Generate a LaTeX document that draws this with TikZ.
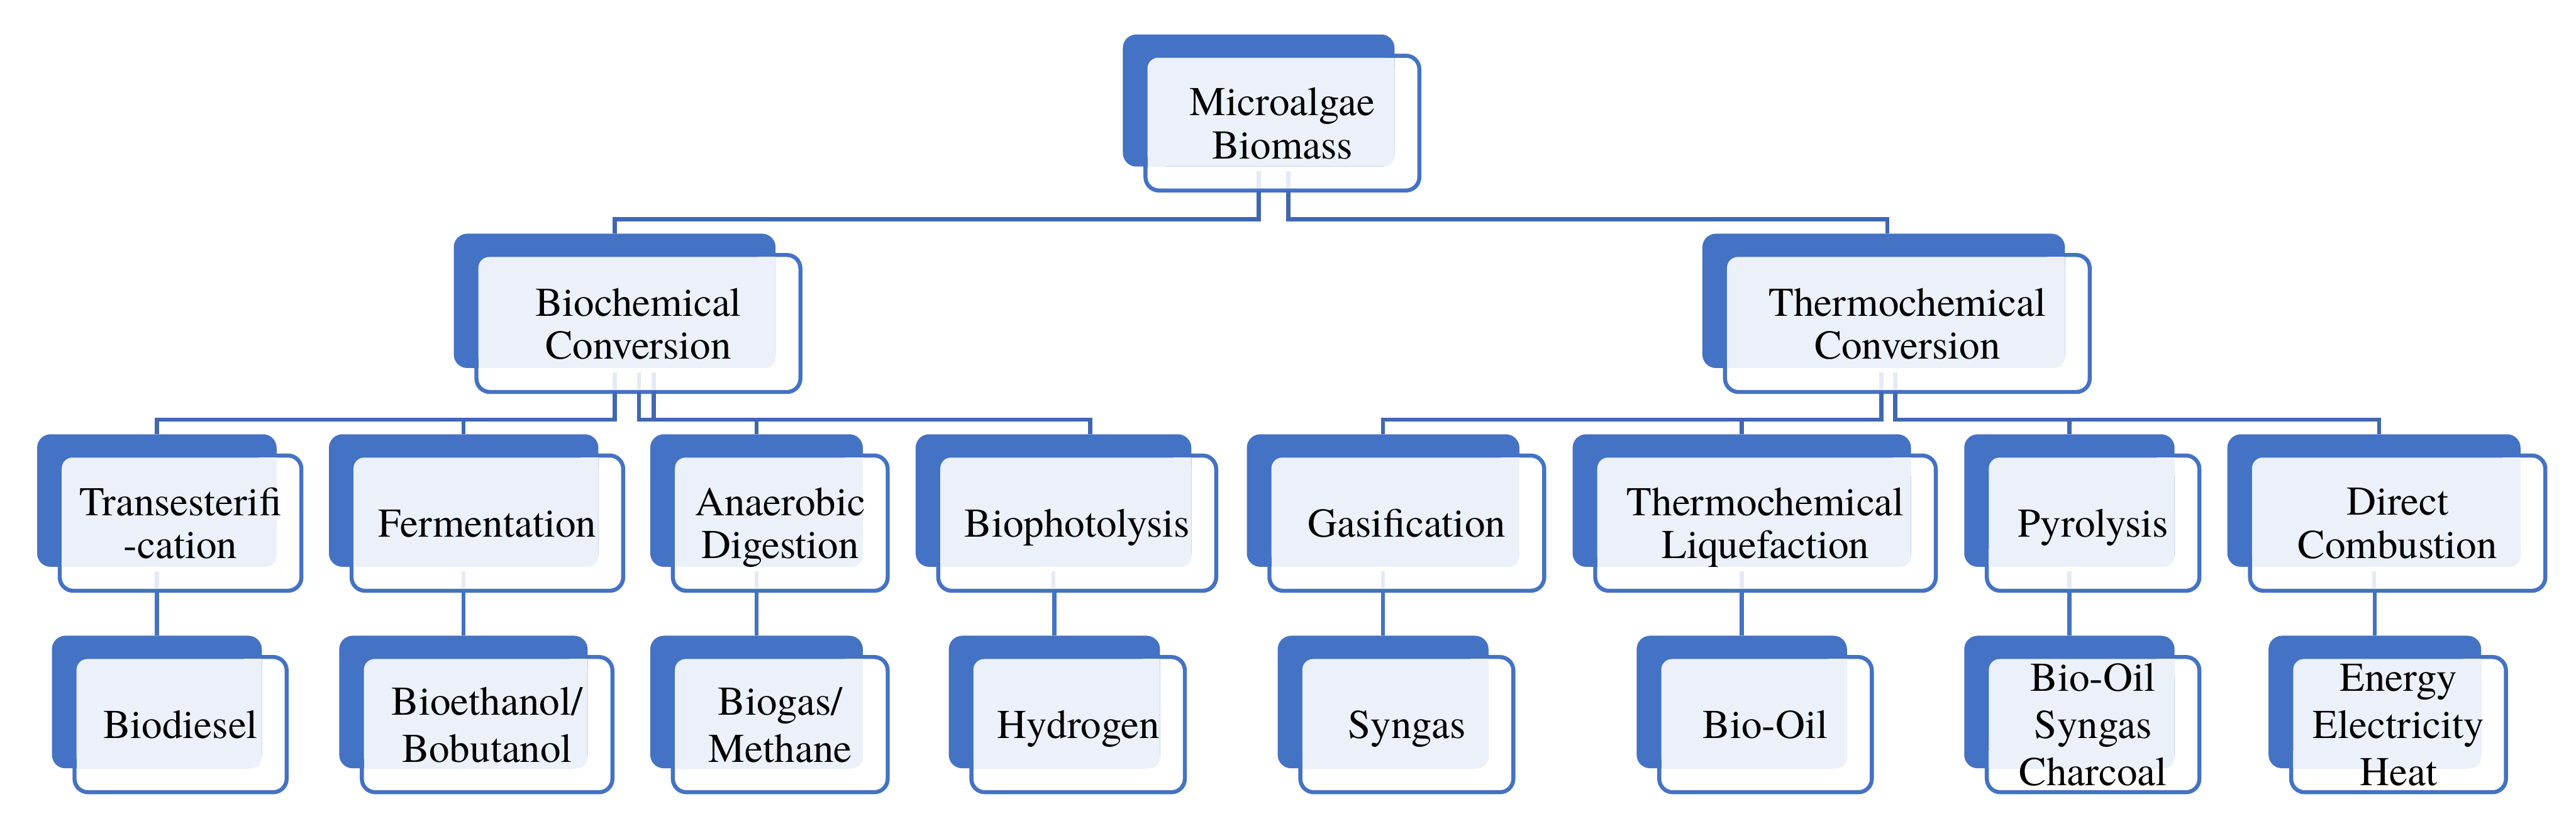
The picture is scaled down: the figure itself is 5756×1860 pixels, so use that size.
\documentclass[tikz,border=0pt]{standalone}
\usepackage{fontspec}
\setmainfont{TeX Gyre Termes}
\usetikzlibrary{calc}

\definecolor{cardblue}{HTML}{4472C4}
\definecolor{cardtint}{HTML}{EBF0F9}
\definecolor{linkblue}{HTML}{3F67B2}
\definecolor{fadeblue}{HTML}{E4EAF5}

\newcommand{\px}{0.05mm}
% one card: #1 name, (#2,#3) centre of the dark back card, #4 x #5 its size, #6 text
\newcommand{\algcard}[6]{%
	\node[frontcard, minimum width=#4*\px+5*\px, minimum height=#5*\px+6*\px] (#1) at ({#2+53},{#3+50.5}) {};
	\node[backcard, minimum width=#4*\px, minimum height=#5*\px] (#1-b) at (#2,#3) {};
	\coordinate (#1-nw) at ([shift={(4.5,4.5)}]#1.north west);
	\fill[cardtint, rounded corners=1.2mm] (#1-nw) rectangle (#1-b.south east);
	\fill[cardtint] (#1-nw -| #1-b.south east) rectangle +(-40,40);
	\fill[cardtint] (#1-nw |- #1-b.south east) rectangle +(40,-40);
	\node[cardtext] (#1-t) at (#1.center) {#6};
}

\begin{document}
\begin{tikzpicture}[x=\px, y=-\px,
	frontcard/.style={draw=cardblue, line width=9*\px, fill=white, rounded corners=1.5mm, inner sep=0pt, outer sep=0pt},
	backcard/.style={fill=cardblue, rounded corners=1.5mm, inner sep=0pt, outer sep=0pt},
	cardtext/.style={font=\fontsize{13pt}{13.7pt}\selectfont, align=center, text depth=0pt, inner sep=0pt},
	link/.style={draw=linkblue, line width=9*\px},
	stem/.style={draw=cardblue, line width=9*\px},
	fadelink/.style={draw=fadeblue, line width=9*\px}]
	\useasboundingbox (0,0) rectangle (5756,1860);

	% top and conversion routes
	\algcard{algae}{2812.5}{224.5}{607}{295}{Microalgae\\Biomass}
	\algcard{biochem}{1373.5}{672}{719}{300}{Biochemical\\Conversion}
	\algcard{thermo}{4209}{672}{810}{300}{Thermochemical\\Conversion}

	% processes
	\foreach \n/\cx/\w/\t in {trans/350.5/535/{Transesterifi\\-cation}, ferm/1036/602/Fermentation, anaer/1690.5/475/{Anaerobic\\Digestion}, photo/2354/616/Biophotolysis, gasif/3090.5/609/Gasification, liquef/3892/756/{Thermochemical\\Liquefaction}, pyro/4624/470/Pyrolysis, combust/5304.5/655/{Direct\\Combustion}}
		{\algcard{\n}{\cx}{1118}{\w}{296}{\t}}

	% products
	\begin{scope}[cardtext/.append style={font=\fontsize{13pt}{15pt}\selectfont}]
	\foreach \n/\cx/\w/\t in {biodiesel/350.5/469/Biodiesel, ethanol/1035.5/555/{Bioethanol/\\Bobutanol}, biogas/1690.5/475/{Biogas/\\Methane}, hydrogen/2356/472/Hydrogen, syngas/3090.5/471/Syngas, biooil/3892/470/Bio-Oil, products/4624/470/{Bio-Oil\\Syngas\\Charcoal}, energy/5306.5/475/{Energy\\Electricity\\Heat}}
		{\algcard{\n}{\cx}{1568}{\w}{296}{\t}}
	\end{scope}

	% connectors
	\draw[link] (algae-b.south |- algae.south) |- ($(biochem-b.north)+(0,-32)$) -- (biochem-b.north);
	\draw[link] ($(algae-b.south |- algae.south)+(66,0)$) |- ($(thermo-b.north)+(8,-32)$) -- ($(thermo-b.north)+(8,0)$);
	\foreach \p/\c/\dx/\ex in {biochem/trans/0/0, biochem/ferm/0/0, biochem/anaer/54/0, biochem/photo/87/82, thermo/gasif/-5/0, thermo/liquef/-5/0, thermo/pyro/26/0, thermo/combust/26/12}
		\draw[link] ($(\p-b.south |- \p.south)+(\dx,0)$) |- ($(\c-b.north)+(\ex,-33)$) -- ($(\c-b.north)+(\ex,0)$);
	\foreach \p/\c in {trans/biodiesel, ferm/ethanol, anaer/biogas, photo/hydrogen, gasif/syngas, liquef/biooil, pyro/products, combust/energy}
		\draw[stem] (\c-b.north |- \p.south) -- (\c-b.north);
	\foreach \p/\dx in {algae/0, algae/66, biochem/0, biochem/54, biochem/87, thermo/-5, thermo/26, trans/0, ferm/0, anaer/0, photo/0, gasif/0, liquef/0, pyro/0, combust/0}
		\draw[fadelink] ($(\p-b.south)+(\dx,10)$) -- ($(\p-b.south |- \p.south)+(\dx,-5)$);
\end{tikzpicture}
\end{document}
